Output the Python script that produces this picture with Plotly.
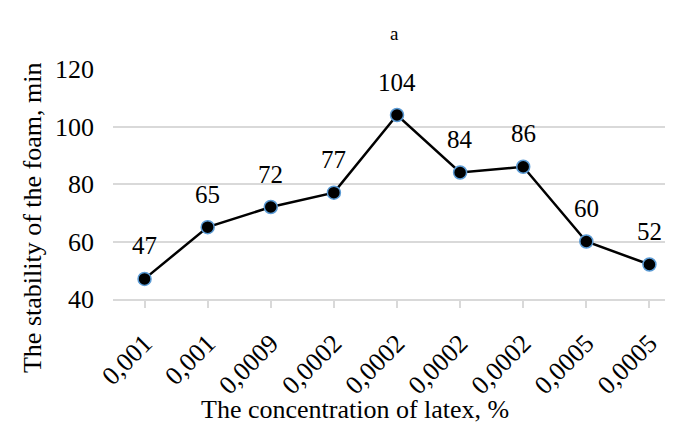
import plotly.graph_objects as go

categories = ["0,001", "0,001", "0,0009", "0,0002", "0,0002", "0,0002", "0,0002", "0,0005", "0,0005"]
stability = [47, 65, 72, 77, 104, 84, 86, 60, 52]
y_ticks = [40, 60, 80, 100, 120]

FONT = "Liberation Serif"
positions = list(range(len(categories)))

fig = go.Figure()
fig.add_trace(go.Scatter(
    x=positions, y=stability, mode="lines+markers",
    line=dict(color="black", width=2.5),
    marker=dict(size=13, color="black", line=dict(color="#5B9BD5", width=1.5)),
    cliponaxis=False, showlegend=False, hoverinfo="skip",
))

for xi, v in zip(positions, stability):
    fig.add_annotation(x=xi, y=v, text=str(v), showarrow=False, yshift=33,
                       xanchor="center", yanchor="middle",
                       font=dict(family=FONT, size=25, color="black"))

fig.add_annotation(text="a", xref="paper", yref="paper", x=0.495, y=1.155,
                   xanchor="center", yanchor="middle",
                   showarrow=False, font=dict(family=FONT, size=19, color="black"))
fig.add_annotation(text="The concentration of latex, %", xref="paper", yref="paper",
                   x=0.426, y=-0.482, xanchor="center", yanchor="middle", showarrow=False,
                   font=dict(family=FONT, size=26, color="black"))
fig.add_annotation(text="The stability of the foam, min", xref="paper", yref="paper",
                   x=-0.1426, y=0.352, xanchor="center", yanchor="middle",
                   showarrow=False, textangle=-90,
                   font=dict(family=FONT, size=26, color="black"))

fig.update_layout(
    width=673, height=423,
    margin=dict(l=105, r=0, t=61, b=132, autoexpand=False),
    paper_bgcolor="white", plot_bgcolor="white",
    font=dict(family=FONT, size=26, color="black"),
    xaxis=dict(
        range=[-0.5, len(categories) - 0.5], automargin=False,
        tickmode="array", tickvals=positions, ticktext=categories,
        tickangle=-45, tickson="boundaries", ticks="outside", ticklen=7,
        tickcolor="#d9d9d9", tickwidth=1.5, ticklabelstandoff=10,
        showline=True, linecolor="#d9d9d9", linewidth=1.5,
        showgrid=False, zeroline=False,
        tickfont=dict(family=FONT, size=26, color="black"),
    ),
    yaxis=dict(
        range=[40, 120], tickmode="array", tickvals=y_ticks, automargin=False,
        showgrid=True, gridcolor="#d9d9d9", gridwidth=1.5,
        zeroline=False, showline=False, ticks="", ticklabelstandoff=18,
        tickfont=dict(family=FONT, size=26, color="black"),
    ),
)

fig.write_html("out.html")
